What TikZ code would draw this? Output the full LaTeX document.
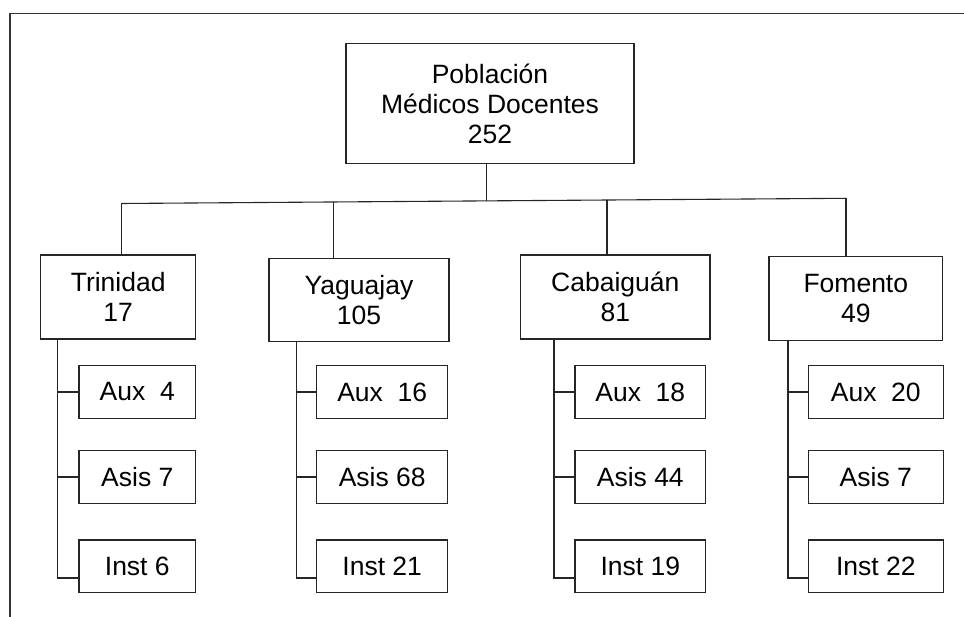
\documentclass[tikz,border=0pt]{standalone}
\usepackage{fontspec}
\setmainfont{Liberation Sans}
\begin{document}
\begin{tikzpicture}[x=1pt,y=-1pt,
  box/.style={draw=black!85, line width=1.1pt, inner sep=0pt, outer sep=0pt,
    align=center, font=\fontsize{26.5}{30}\selectfont},
  leaf/.style={box, minimum height=52.6pt},
  link/.style={draw=black!85, line width=1.1pt},
  frameline/.style={draw=black!80, line width=1.7pt}]
\useasboundingbox (0,0) rectangle (964,617);

% outer frame (top and left edges)
\draw[frameline] (10,617) -- (10,13.5) -- (964,13.5);

% root
\node[box, minimum width=288pt, minimum height=120.5pt] (root) at (490,103.5)
  {Población\\Médicos Docentes\\252};

% municipalities
\node[box, minimum width=155pt, minimum height=84pt] (T) at (118.2,297) {Trinidad\\17};
\node[box, minimum width=180pt, minimum height=83.4pt] (Y) at (359,300) {Yaguajay\\105};
\node[box, minimum width=189.3pt, minimum height=84pt] (C) at (615.3,297) {Cabaiguán\\81};
\node[box, minimum width=173.7pt, minimum height=84.3pt] (F) at (855.8,298.8) {Fomento\\49};

% categories
\foreach \m/\cx/\w/\a/\s/\i in {T/137.3/116.7/Aux\ \ 4/Asis 7/Inst 6,
                               Y/382.2/131/Aux\ \ 16/Asis 68/Inst 21,
                               C/640.3/130.7/Aux\ \ 18/Asis 44/Inst 19,
                               F/875.8/135/Aux\ \ 20/Asis 7/Inst 22}{
  \node[leaf, minimum width=\w pt] (\m A) at (\cx,392) {\a};
  \node[leaf, minimum width=\w pt] (\m S) at (\cx,477) {\s};
  \node[leaf, minimum width=\w pt] (\m I) at (\cx,566.3) {\i};
}

% bus under the root
\coordinate (bT) at (121.7,203.5);
\coordinate (bY) at (333.3,202);
\coordinate (bR) at (486.7,200.9);
\coordinate (bC) at (607,200);
\coordinate (bF) at (846,198.3);
\draw[link] (bT) -- (bF);
\draw[link] (bR |- root.south) -- (bR);
\foreach \m in {T,Y,C,F}{
  \draw[link] (b\m) -- (b\m |- \m.north);
}

% spines to the categories
\coordinate (sT) at (57.7,578);
\coordinate (sY) at (296.7,578);
\coordinate (sC) at (554,578);
\coordinate (sF) at (788,578);
\foreach \m in {T,Y,C,F}{
  \draw[link] (s\m |- \m.south) -- (s\m) -- (s\m -| \m I.west);
  \draw[link] (s\m |- \m A.west) -- (\m A.west);
  \draw[link] (s\m |- \m S.west) -- (\m S.west);
}
\end{tikzpicture}
\end{document}
